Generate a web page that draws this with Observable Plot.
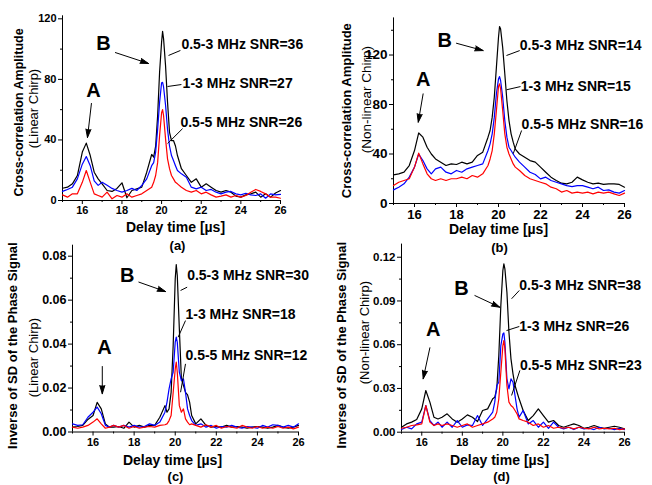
<!DOCTYPE html>
<html><head><meta charset="utf-8">
<script src="https://cdn.jsdelivr.net/npm/d3@7"></script>
<script src="https://cdn.jsdelivr.net/npm/@observablehq/plot@0.6"></script>
<style>
html,body{margin:0;padding:0;background:#fff;}
#fig{position:relative;width:652px;height:485px;overflow:hidden;background:#fff;}
#fig svg{position:absolute;left:0;top:0;}
</style></head><body><div id="fig"></div>
<script>
// ---------- data ----------
const delayTime = [15, 15.25, 15.5, 15.75, 16, 16.2, 16.4, 16.6, 16.8, 17, 17.25, 17.5, 17.75, 18, 18.25, 18.5, 18.75, 19, 19.25, 19.5, 19.6, 19.7, 19.8, 19.9, 20, 20.05, 20.1, 20.2, 20.3, 20.4, 20.5, 20.6, 20.7, 20.8, 21, 21.25, 21.5, 21.75, 22, 22.25, 22.5, 22.75, 23, 23.25, 23.5, 23.75, 24, 24.25, 24.5, 24.75, 25, 25.25, 25.5, 25.75, 26];

const bandNames = ["0.5-3 MHz", "1-3 MHz", "0.5-5 MHz"];

// (a) cross-correlation, linear chirp
const aBlack = [8.1, 8.8, 11, 16.5, 32, 37.9, 29.7, 18.7, 14.3, 11, 6.6, 6, 8, 11.7, 1.8, 6.6, 7.7, 8.8, 18.7, 30.4, 28.6, 36, 56, 85, 104.6, 111.7, 106.8, 89, 65, 45, 39.6, 39.6, 36, 29.7, 21, 16.5, 12, 14.3, 8.8, 11, 8.8, 6.6, 5.5, 6.6, 5.5, 2.9, 2.2, 3.7, 4.4, 5.5, 2.2, 4.4, 2.2, 5, 6.6];
const aBlue = [6, 7.3, 8.8, 14.3, 24, 29, 23, 13, 10, 12, 10, 8, 6.6, 5.5, 6.6, 8, 6.6, 10, 14.3, 23, 25, 32, 47, 65, 77.8, 78, 75, 63, 47, 36, 29.7, 26.4, 23, 19.8, 17.6, 15.4, 8.8, 7.7, 8.8, 6.6, 7.3, 5.5, 4.4, 5.5, 6, 4.4, 3.7, 4.8, 3.7, 3.3, 4.4, 1.5, 4.4, 3.7, 4];
const aRed = [3.7, 2.2, 4.4, 4.4, 12, 19.8, 12, 4.4, 3.3, 2.2, 5.5, 1.1, 3.3, 2.2, 4.4, 2.2, 3.3, 4.4, 6.6, 8.8, 12, 16.5, 25, 43, 58, 60, 56, 40.7, 27.5, 21, 16.5, 14.3, 12, 11, 8.8, 6.6, 5.5, 6.6, 4.4, 5.5, 3.7, 2.2, 2.9, 3.7, 2.2, 3.3, 2.2, 3.3, 5.5, 7.3, 6, 4.4, 2.2, 2.2, 1.5];
const snrA = [36, 27, 26];

// (b) cross-correlation, non-linear chirp
const bBlack = [23.2, 24, 25.3, 30.7, 42.8, 57, 53.6, 45.5, 40, 36, 33.4, 30.7, 32, 31.5, 33.4, 32, 33.4, 38.8, 41.5, 53.6, 59, 69.8, 86, 110, 134.4, 143, 141, 126, 104.8, 83, 67, 56.3, 49.6, 44, 40, 37.4, 34.7, 33.4, 29.4, 25.3, 21.3, 18.6, 16.4, 15.9, 17.2, 21.3, 19.1, 17.2, 15.9, 16.4, 15.4, 15.9, 15.9, 15.4, 13.2];
const bBlue = [11, 13.2, 15.9, 21.3, 29.4, 40, 34.7, 28, 24, 28, 29.4, 25.3, 24, 26.7, 25.3, 28, 29.4, 30.7, 32, 42.8, 48.2, 56.3, 69.8, 88.6, 100.7, 102.6, 99.4, 86, 67, 53.6, 45.5, 42.8, 40, 37.4, 33.4, 29.4, 25.3, 23.4, 19.9, 21.3, 18.6, 17.2, 15.9, 14.5, 13.7, 14.5, 14.5, 13.2, 11.9, 13.2, 10.5, 11, 9.2, 8.4, 10.5];
const bRed = [14.5, 17.2, 18.6, 20, 29.4, 40.7, 32, 24, 20, 18.6, 20, 18.6, 20, 20, 21.3, 20, 22.6, 21.3, 24, 30.7, 36, 42.8, 56.3, 75, 94.5, 96.7, 92.7, 75, 56.3, 45.5, 40, 36, 32, 29.4, 26.7, 22.6, 20, 18.6, 17.2, 15.9, 13.2, 11.9, 9.2, 10.5, 8.4, 9.2, 8.4, 9.2, 7.8, 9.2, 8.4, 9.2, 7.8, 6.5, 8.4];
const snrB = [14, 15, 16];

// (c) inverse SD of phase, linear chirp
const cBlack = [0.0022, 0.0025, 0.003, 0.0057, 0.0075, 0.0135, 0.0105, 0.0037, 0.0022, 0.0022, 0.0025, 0.0017, 0.0045, 0.0022, 0.003, 0.0022, 0.003, 0.003, 0.0067, 0.012, 0.009, 0.0105, 0.018, 0.0394, 0.0697, 0.0762, 0.0712, 0.047, 0.0242, 0.0212, 0.018, 0.0169, 0.0136, 0.0075, 0.0037, 0.006, 0.003, 0.0022, 0.0025, 0.0022, 0.003, 0.0022, 0.0025, 0.0022, 0.0017, 0.0022, 0.0025, 0.0022, 0.0017, 0.0022, 0.003, 0.0022, 0.0017, 0.0022, 0.003];
const cBlue = [0.0037, 0.003, 0.0033, 0.0067, 0.009, 0.0113, 0.0083, 0.003, 0.0022, 0.003, 0.0022, 0.003, 0.0022, 0.003, 0.0022, 0.0025, 0.0037, 0.003, 0.0045, 0.009, 0.0136, 0.0196, 0.0242, 0.0272, 0.0409, 0.0432, 0.0409, 0.0272, 0.0234, 0.0242, 0.018, 0.0105, 0.0075, 0.0052, 0.003, 0.0037, 0.0022, 0.003, 0.0017, 0.0025, 0.0022, 0.003, 0.0022, 0.0017, 0.0025, 0.0022, 0.0017, 0.003, 0.0022, 0.0033, 0.003, 0.0022, 0.003, 0.0022, 0.0037];
const cRed = [0.0022, 0.0017, 0.0022, 0.003, 0.0045, 0.006, 0.0037, 0.0017, 0.0022, 0.003, 0.0022, 0.003, 0.0017, 0.0025, 0.0017, 0.0022, 0.0025, 0.0022, 0.003, 0.0033, 0.0037, 0.0052, 0.0075, 0.018, 0.0287, 0.0318, 0.0272, 0.012, 0.009, 0.0105, 0.006, 0.0045, 0.0033, 0.0037, 0.003, 0.0022, 0.0033, 0.0022, 0.003, 0.0017, 0.0025, 0.0022, 0.0017, 0.003, 0.0022, 0.0017, 0.0025, 0.0017, 0.0022, 0.0017, 0.0025, 0.0017, 0.0022, 0.0014, 0.0022];
const snrC = [30, 18, 12];

// (d) inverse SD of phase, non-linear chirp
const dBlack = [0.0034, 0.0057, 0.0069, 0.0087, 0.016, 0.0286, 0.0206, 0.0103, 0.0091, 0.0103, 0.0126, 0.0091, 0.0069, 0.0091, 0.0119, 0.0103, 0.0073, 0.0149, 0.016, 0.0229, 0.024, 0.0297, 0.0526, 0.0869, 0.1109, 0.1154, 0.112, 0.096, 0.0686, 0.0503, 0.04, 0.032, 0.0274, 0.0229, 0.0149, 0.008, 0.0114, 0.016, 0.0114, 0.0069, 0.008, 0.0046, 0.0034, 0.0046, 0.0057, 0.0046, 0.0027, 0.0034, 0.0046, 0.0034, 0.0027, 0.0034, 0.0041, 0.0034, 0.0023];
const dBlue = [0.0018, 0.0034, 0.0023, 0.0057, 0.0069, 0.0183, 0.008, 0.0046, 0.0069, 0.0034, 0.0069, 0.0034, 0.008, 0.0034, 0.005, 0.0046, 0.0114, 0.0046, 0.0091, 0.0137, 0.0206, 0.032, 0.0343, 0.0594, 0.0674, 0.0681, 0.0617, 0.0366, 0.0297, 0.0366, 0.0343, 0.0251, 0.016, 0.0103, 0.0149, 0.0057, 0.008, 0.0034, 0.0069, 0.0027, 0.0069, 0.0034, 0.0023, 0.0034, 0.0018, 0.0034, 0.0023, 0.0027, 0.0018, 0.0034, 0.0023, 0.0027, 0.0018, 0.0027, 0.0018];
const dRed = [0.0027, 0.0034, 0.0046, 0.005, 0.0057, 0.0183, 0.0069, 0.0046, 0.0057, 0.0046, 0.0057, 0.0046, 0.0034, 0.0046, 0.0057, 0.0034, 0.0046, 0.0057, 0.0069, 0.0091, 0.0103, 0.0137, 0.0229, 0.0411, 0.0594, 0.0629, 0.0571, 0.032, 0.0206, 0.0183, 0.0171, 0.0149, 0.0126, 0.0091, 0.008, 0.0069, 0.0046, 0.0057, 0.0034, 0.0046, 0.0027, 0.0034, 0.0027, 0.0034, 0.0023, 0.0034, 0.0027, 0.0023, 0.0034, 0.0023, 0.0027, 0.0023, 0.0027, 0.0018, 0.0023];
const snrD = [38, 26, 23];

// tick labels
const xTicks = [16, 18, 20, 22, 24, 26];
const xMinor = [15, 17, 19, 21, 23, 25];
const yTicksA = [0, 40, 80, 120], yMinorA = [20, 60, 100];
const yTicksB = [0, 40, 80, 120], yMinorB = [20, 60, 100, 140];
const yTicksC = [0, 0.02, 0.04, 0.06, 0.08], yMinorC = [0.01, 0.03, 0.05, 0.07];
const yTicksD = [0, 0.03, 0.06, 0.09, 0.12], yMinorD = [0.015, 0.045, 0.075, 0.105];

// annotation anchors (data coordinates)
const annA = {A: [16.56, 72.6], arrowA: [16.46, 64.1, 16.26, 41.6], B: [17.07, 103.7], arrowB: [17.67, 97.7, 19.34, 90.5],
  labels: [[21.0, 103], [21.06, 77.6], [20.95, 51.5]],
  leaders: [[20.95, 99.1, 20.35, 95.8], [21.0, 76.6, 20.3, 75.3], [21.06, 47.5, 20.3, 37.6]]};
const annB = {A: [16.41, 100], arrowA: [16.41, 88.6, 16.18, 65.7], B: [17.44, 131.7], arrowB: [18.0, 129.5, 19.27, 123.6],
  labels: [[21.01, 127.7], [21.06, 94.5], [21.1, 63.8]],
  leaders: [[21.01, 123.6, 20.38, 119.6], [21.05, 94.5, 20.38, 91.9], [21.1, 59, 20.7, 40.2]]};
const annC = {A: [16.56, 0.0383], arrowA: [16.45, 0.0298, 16.45, 0.0174], B: [17.66, 0.0712], arrowB: [18.23, 0.0682, 19.53, 0.0639],
  labels: [[20.58, 0.0712], [20.5, 0.0535], [20.5, 0.0348]],
  leaders: [[20.58, 0.0659, 20.26, 0.0644], [20.5, 0.0507, 20.14, 0.0431], [20.5, 0.031, 20.26, 0.0181]]};
const annD = {A: [16.56, 0.0702], arrowA: [16.4, 0.0579, 16.07, 0.0366], B: [17.96, 0.0983], arrowB: [18.62, 0.0937, 19.85, 0.0857],
  labels: [[20.81, 0.1006], [20.81, 0.0725], [20.84, 0.0457]],
  leaders: [[20.81, 0.0972, 20.43, 0.0915], [20.81, 0.0725, 20.18, 0.0697], [20.84, 0.0424, 20.43, 0.0252]]};

// ---------- layout ----------
const FONT = "'Liberation Sans', Arial, Helvetica, sans-serif";
const panels = [
  {series: [aBlack, aBlue, aRed], snr: snrA, ann: annA, yDomain: [0, 122], yTicks: yTicksA, yMinor: yMinorA, fmt: d3.format("d"),
   m: [62, 372, 15.3, 285], xf: 11, yf: 11, title: "Cross-correlation Amplitude", sub: "(Linear Chirp)", cap: "(a)",
   tf: 12.5, sf: 13, tPos: [-44, 4.3], sPos: [-29, 0.4], xlPos: [4, 27], capPos: [6, 45]},
  {series: [bBlack, bBlue, bRed], snr: snrB, ann: annB, yDomain: [0, 150], yTicks: yTicksB, yMinor: yMinorB, fmt: d3.format("d"),
   m: [393, 28, 17.4, 282], xf: 13, yf: 13.5, title: "Cross-correlation Amplitude", sub: "(Non-linear Chirp)", cap: "(b)",
   tf: 13, sf: 13.5, tPos: [-47, 0], sPos: [-27, -11], xlPos: [-10.5, 26], capPos: [-9.5, 44]},
  {series: [cBlack, cBlue, cRed], snr: snrC, ann: annC, yDomain: [0, 0.085], yTicks: yTicksC, yMinor: yMinorC, fmt: d3.format(".2f"),
   m: [72, 354, 244.7, 53.5], xf: 11, yf: 12.5, title: "Inverse of SD of the Phase Signal", sub: "(Linear Chirp)", cap: "(c)",
   tf: 13, sf: 13, tPos: [-60, 7], sPos: [-39, 19], xlPos: [-13, 28.5], capPos: [-10, 44.5]},
  {series: [dBlack, dBlue, dRed], snr: snrD, ann: annD, yDomain: [0, 0.129], yTicks: yTicksD, yMinor: yMinorD, fmt: d3.format(".2f"),
   m: [401, 28, 243.6, 53.3], xf: 11, yf: 11.5, title: "Inverse of SD of the Phase Signal", sub: "(Non-linear Chirp)", cap: "(d)",
   tf: 13, sf: 13, tPos: [-60, 7], sPos: [-37, -5.6], xlPos: [-13.5, 28.3], capPos: [-11.5, 44.5]}
];
const colors = ["#000000", "#0000ff", "#ff0000"];

for (const p of panels) for (const s of p.series) if (s.length !== delayTime.length) throw new Error("length mismatch " + s.length);

function makePanel(p) {
  const a = p.ann;
  const labels = p.ann.labels.map((l, i) => ({x: l[0], y: l[1], t: `${bandNames[i]} SNR=${p.snr[i]}`}));
  const leaders = a.leaders.map(l => ({x1: l[0], y1: l[1], x2: l[2], y2: l[3]}));
  const arrows = [a.arrowA, a.arrowB].map(l => ({x1: l[0], y1: l[1], x2: l[2], y2: l[3]}));
  const letters = [{x: a.A[0], y: a.A[1], t: "A"}, {x: a.B[0], y: a.B[1], t: "B"}];
  return Plot.plot({
    width: 652, height: 485,
    marginLeft: p.m[0], marginRight: p.m[1], marginTop: p.m[2], marginBottom: p.m[3],
    style: {background: "transparent", fontFamily: FONT, fontWeight: "bold", fontSize: "11px", color: "#000", overflow: "visible"},
    x: {domain: [15, 26]},
    y: {domain: p.yDomain},
    marks: [
      Plot.axisX(xTicks, {tickSize: 4, tickPadding: 2, label: null, fontSize: p.xf, fontWeight: "bold"}),
      Plot.axisX(xMinor, {tickSize: 2, tickFormat: () => "", label: null}),
      Plot.axisY(p.yTicks, {tickSize: 4, tickPadding: 2, tickFormat: p.fmt, label: null, fontSize: p.yf, fontWeight: "bold"}),
      Plot.axisY(p.yMinor, {tickSize: 2, tickFormat: () => "", label: null}),
      Plot.ruleX([15], {stroke: "#000", strokeWidth: 1}),
      Plot.ruleY([0], {stroke: "#000", strokeWidth: 1}),
      ...p.series.map((s, i) => Plot.line(s, {x: delayTime, y: s, stroke: colors[i], strokeWidth: 1.2})),
      Plot.link(leaders, {x1: "x1", y1: "y1", x2: "x2", y2: "y2", stroke: "#000", strokeWidth: 1}),
      Plot.arrow(arrows, {x1: "x1", y1: "y1", x2: "x2", y2: "y2", stroke: "#000", fill: "#000", strokeWidth: 1, headAngle: 34, headLength: 13}),
      Plot.text(labels, {x: "x", y: "y", text: "t", textAnchor: "start", lineAnchor: "middle", fontSize: 14, fontWeight: "bold", fill: "#000"}),
      Plot.text(letters, {x: "x", y: "y", text: "t", textAnchor: "middle", lineAnchor: "middle", fontSize: 20, fontWeight: "bold", fill: "#000"}),
      Plot.text([p.title], {text: d => d, frameAnchor: "left", textAnchor: "middle", lineAnchor: "middle", rotate: -90, dx: p.tPos[0], dy: p.tPos[1], fontSize: p.tf, fontWeight: "bold", fill: "#000"}),
      Plot.text([p.sub], {text: d => d, frameAnchor: "left", textAnchor: "middle", lineAnchor: "middle", rotate: -90, dx: p.sPos[0], dy: p.sPos[1], fontSize: p.sf, fontWeight: "normal", fill: "#000"}),
      Plot.text(["Delay time [µs]"], {text: d => d, frameAnchor: "bottom", textAnchor: "middle", lineAnchor: "middle", dx: p.xlPos[0], dy: p.xlPos[1], fontSize: 14, fontWeight: "bold", fill: "#000"}),
      Plot.text([p.cap], {text: d => d, frameAnchor: "bottom", textAnchor: "middle", lineAnchor: "middle", dx: p.capPos[0], dy: p.capPos[1], fontSize: 13, fontWeight: "bold", fill: "#000"})
    ]
  });
}

const fig = document.getElementById("fig");
for (const p of panels) fig.appendChild(makePanel(p));
</script>
</body></html>
